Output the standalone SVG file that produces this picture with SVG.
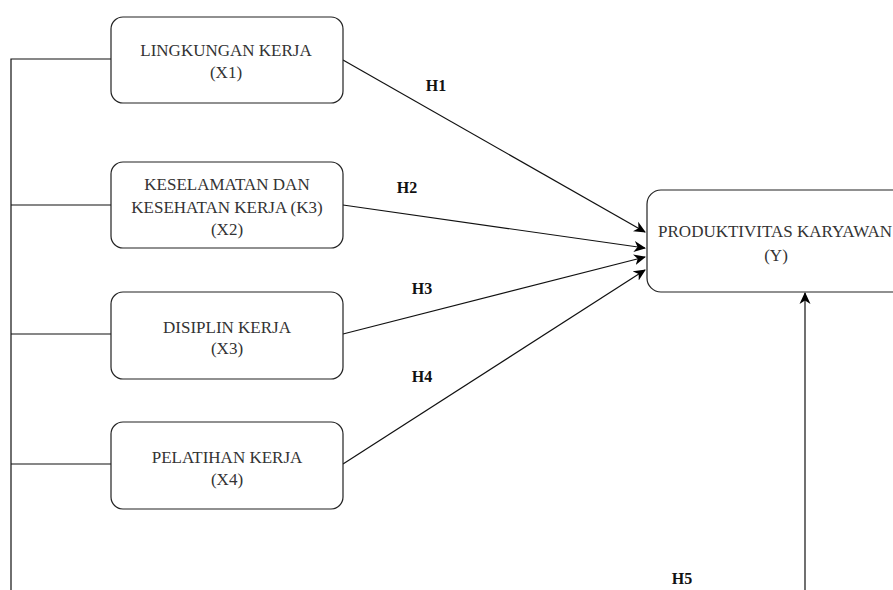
<svg xmlns="http://www.w3.org/2000/svg" width="893" height="590" viewBox="0 0 893 590">
<style>
.box{fill:#fff;stroke:#222;stroke-width:1.2}
.t{font-family:'Liberation Serif','Times New Roman','DejaVu Serif',serif;font-size:17px;fill:#333;text-anchor:middle}
.h{font-family:'Liberation Serif','Times New Roman','DejaVu Serif',serif;font-size:16px;font-weight:bold;fill:#111;text-anchor:middle}
.ln{stroke:#111;stroke-width:1.2;fill:none}
</style>
<defs>
<marker id="arr" viewBox="0 0 12 12" refX="11" refY="6" markerWidth="12" markerHeight="12" markerUnits="userSpaceOnUse" orient="auto">
<path d="M0,0.5 L12,6 L0,11.5 L3.5,6 Z" fill="#000"/>
</marker>
</defs>
<rect width="893" height="590" fill="#fff"/>
<g id="connectors">
<path class="ln" d="M11,590 V59 H111"/>
<path class="ln" d="M11,205 H111"/>
<path class="ln" d="M11,334 H111"/>
<path class="ln" d="M11,464 H111"/>
<path class="ln" d="M343,60 L645,232" marker-end="url(#arr)"/>
<path class="ln" d="M343,205 L645,248" marker-end="url(#arr)"/>
<path class="ln" d="M343,334 L645,257" marker-end="url(#arr)"/>
<path class="ln" d="M343,464 L645,270" marker-end="url(#arr)"/>
<path class="ln" d="M805,590 V293" marker-end="url(#arr)"/>
</g>
<g id="labels">
<text class="h" x="436" y="91">H1</text>
<text class="h" x="407" y="193">H2</text>
<text class="h" x="422" y="294">H3</text>
<text class="h" x="422" y="382">H4</text>
<text class="h" x="682" y="584">H5</text>
</g>
<g id="x1">
<rect class="box" x="111" y="17" width="232" height="86" rx="12"/>
<text class="t" x="226" y="56">LINGKUNGAN KERJA</text>
<text class="t" x="226" y="78">(X1)</text>
</g>
<g id="x2">
<rect class="box" x="111" y="162" width="232" height="86" rx="12"/>
<text class="t" x="227" y="190">KESELAMATAN DAN</text>
<text class="t" x="227" y="213">KESEHATAN KERJA (K3)</text>
<text class="t" x="227" y="235">(X2)</text>
</g>
<g id="x3">
<rect class="box" x="111" y="292" width="232" height="87" rx="12"/>
<text class="t" x="227" y="333">DISIPLIN KERJA</text>
<text class="t" x="227" y="354">(X3)</text>
</g>
<g id="x4">
<rect class="box" x="111" y="422" width="232" height="87" rx="12"/>
<text class="t" x="227" y="463">PELATIHAN KERJA</text>
<text class="t" x="227" y="485">(X4)</text>
</g>
<g id="y">
<rect class="box" x="647" y="190" width="260" height="102" rx="14"/>
<text class="t" x="775" y="237">PRODUKTIVITAS KARYAWAN</text>
<text class="t" x="776" y="261">(Y)</text>
</g>
</svg>
